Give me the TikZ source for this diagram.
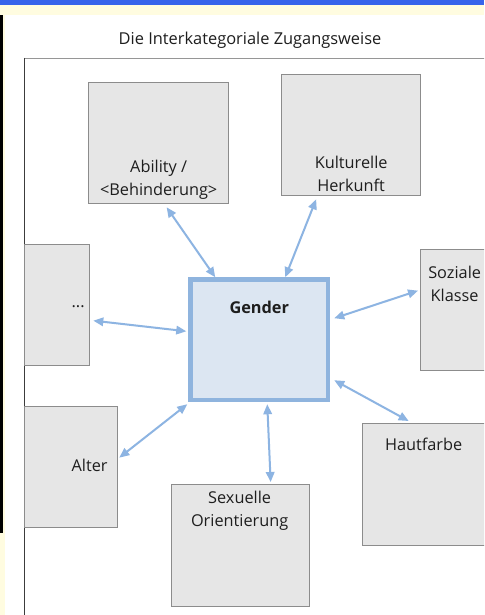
\documentclass[tikz,border=0pt]{standalone}
\usepackage{fontspec}
\setmainfont{Open Sans}
\usetikzlibrary{arrows.meta}
\definecolor{boxfill}{RGB}{230,230,230}
\definecolor{boxline}{RGB}{140,140,140}
\definecolor{gfill}{RGB}{220,230,242}
\definecolor{gline}{RGB}{143,180,222}
\definecolor{arr}{RGB}{141,180,226}
\definecolor{txt}{RGB}{30,30,30}
\definecolor{topblue}{RGB}{55,100,235}
\definecolor{topyellow}{RGB}{255,252,224}
\definecolor{frameline}{RGB}{150,150,150}
\definecolor{frameleft}{RGB}{60,60,60}
\tikzset{
  gbox/.style={draw=boxline, fill=boxfill, line width=1.3pt, inner sep=0pt,
    anchor=north west, minimum height=121pt},
  lbl/.style={text=txt, align=center, font=\fontsize{16.3}{23}\selectfont, inner sep=0pt},
  genderbox/.style={draw=gline, fill=gfill, line width=4.5pt, inner sep=0pt,
    anchor=north west, minimum width=137.5pt, minimum height=120.5pt},
  link/.style={draw=arr, line width=2pt,
    {Triangle[length=10pt,width=8.5pt]}-{Triangle[length=10pt,width=8.5pt]}},
  titletext/.style={text=txt, font=\fontsize{16.4}{20}\selectfont, inner sep=0pt}
}
\begin{document}
\begin{tikzpicture}[x=1pt,y=-1pt]
\useasboundingbox (0,0) rectangle (484,615);
\clip (0,0) rectangle (484,615);
% window decoration
\fill[white] (0,0) rectangle (484,615);
\fill[topyellow] (0,5) rectangle (484,15);
\fill[topyellow] (0,5) rectangle (5,615);
\fill[topblue] (0,0) rectangle (484,5.5);
\fill[black] (0,15) rectangle (2.5,533);
% title
\node[titletext] (title) at (250,40) {Die Interkategoriale Zugangsweise};
% frame
\draw[frameline, line width=1.2pt] (24,58.5) -- (490,58.5);
\draw[frameleft, line width=1pt] (24,58) -- (24,620);
% boxes
\node[gbox, minimum width=140pt, label={[lbl,yshift=-37pt]center:Ability /\\<Behinderung>}] (abil) at (88,82) {};
\node[gbox, minimum width=139pt, label={[lbl,yshift=-39pt]center:Kulturelle\\Herkunft}] (kult) at (281,74) {};
\node[gbox, minimum width=65pt, label={[lbl,xshift=21pt,yshift=-1pt]center:...}] (dots) at (24,244) {};
\node[gbox, minimum width=80pt, label={[lbl,xshift=-6pt,yshift=26pt]center:Soziale\\Klasse}] (soz) at (420,249) {};
\node[gbox, minimum width=130pt, minimum height=122pt, label={[lbl,xshift=-4pt,yshift=40pt]center:Hautfarbe}] (haut) at (362,423) {};
\node[gbox, minimum width=93pt, label={[lbl,xshift=18.5pt,yshift=1.5pt]center:Alter}] (alter) at (24,406) {};
\node[gbox, minimum width=138pt, minimum height=122pt, label={[lbl,xshift=-1pt,yshift=35pt]center:Sexuelle\\Orientierung}] (sex) at (171,484) {};
\node[genderbox, label={[lbl,yshift=32pt,font=\fontsize{16.3}{23}\selectfont\bfseries]center:Gender}] (gender) at (188.25,277.25) {};
% connectors
\draw[link] ([xshift=8pt,yshift=-3pt]abil.south) -- ([xshift=-44pt]gender.north);
\draw[link] ([xshift=-35pt,yshift=-3pt]kult.south) -- ([xshift=26pt]gender.north);
\draw[link] ([xshift=3pt,yshift=-15.5pt]dots.east) -- ([xshift=-2pt,yshift=8.5pt]gender.west);
\draw[link] ([xshift=-2pt,yshift=19.5pt]soz.west) -- ([xshift=4pt,yshift=21.5pt]gender.east);
\draw[link] ([xshift=-19pt,yshift=2pt]haut.north) -- ([xshift=4pt,yshift=-40.5pt]gender.east);
\draw[link] ([xshift=1pt,yshift=9.5pt]alter.east) -- ([xshift=-1pt,yshift=-2pt]gender.south west);
\draw[link] ([xshift=30pt,yshift=2pt]sex.north) -- ([xshift=8pt,yshift=-2pt]gender.south);
\end{tikzpicture}
\end{document}
